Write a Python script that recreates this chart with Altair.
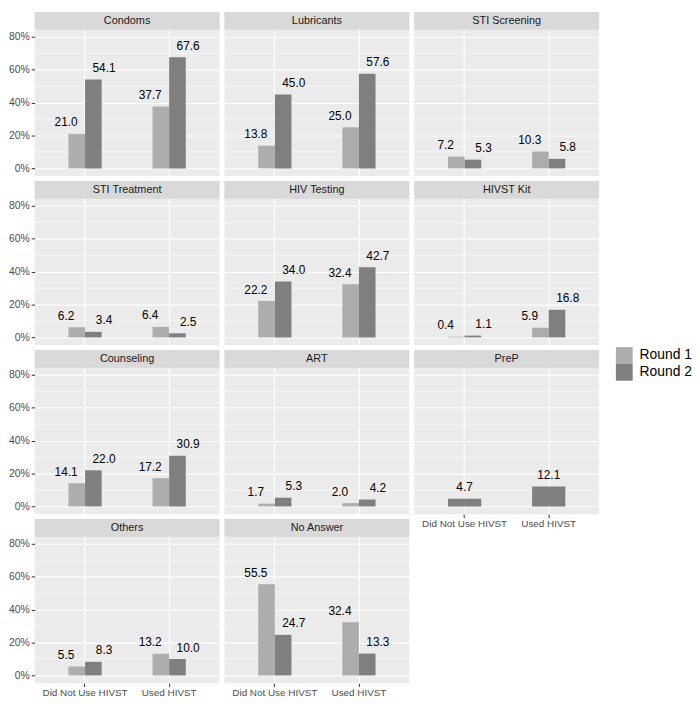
import altair as alt
import pandas as pd

panels = ["Condoms", "Lubricants", "STI Screening", "STI Treatment", "HIV Testing",
          "HIVST Kit", "Counseling", "ART", "PreP", "Others", "No Answer"]
groups = ["Did Not Use HIVST", "Used HIVST"]
rounds = ["Round 1", "Round 2"]
round1_not_used = [21.0, 13.8, 7.2, 6.2, 22.2, 0.4, 14.1, 1.7, None, 5.5, 55.5]
round1_used = [37.7, 25.0, 10.3, 6.4, 32.4, 5.9, 17.2, 2.0, None, 13.2, 32.4]
round2_not_used = [54.1, 45.0, 5.3, 3.4, 34.0, 1.1, 22.0, 5.3, 4.7, 8.3, 24.7]
round2_used = [67.6, 57.6, 5.8, 2.5, 42.7, 16.8, 30.9, 4.2, 12.1, 10.0, 13.3]
colors = ["#ADADAD", "#7F7F7F"]

rows = []
for i, p in enumerate(panels):
    for rnd, a, b in [("Round 1", round1_not_used, round1_used),
                      ("Round 2", round2_not_used, round2_used)]:
        for g, v in zip(groups, [a[i], b[i]]):
            if v is not None:
                rows.append({"panel": p, "group": g, "round": rnd, "value": v})
df = pd.DataFrame(rows)

W, H, STRIP = 187, 166, 18
FONT = "Liberation Sans"
yscale = alt.Scale(domain=[-4.69, 95.16], nice=False, zero=False)
xscale = alt.Scale(domain=groups, paddingInner=0.605, paddingOuter=0.4015)
color_scale = alt.Scale(domain=rounds, range=colors)
legend = alt.Legend(orient="none", legendX=588, legendY=339, title=None,
                    symbolType="square", symbolSize=289, symbolStrokeWidth=0,
                    labelFontSize=14, labelColor="black", rowPadding=0,
                    labelOffset=7, padding=0, labelFont=FONT)

ncols = 3
bottom_panels = {"Others", "No Answer", "PreP"}


def make_panel(idx, name):
    show_y = idx % ncols == 0
    show_x = name in bottom_panels
    sub = df[df.panel == name]
    rnds = [r for r in rounds if r in set(sub["round"])]

    if show_y:
        yaxis = alt.Axis(values=[0, 20, 40, 60, 80], labelExpr="datum.value + '%'",
                         title=None, domain=False, grid=True, gridColor="white",
                         gridWidth=1.1, tickSize=3.5, tickColor="#333333",
                         tickWidth=1, labelColor="#4D4D4D", labelFontSize=10.5,
                         labelPadding=2, labelFont=FONT)
    else:
        yaxis = alt.Axis(values=[0, 20, 40, 60, 80], title=None, domain=False,
                         labels=False, ticks=False, grid=True, gridColor="white",
                         gridWidth=1.1)
    if show_x:
        xaxis = alt.Axis(title=None, domain=False, grid=True, gridColor="white",
                         gridWidth=1.1, tickSize=3.5, tickColor="#333333",
                         labelColor="#4D4D4D", labelFontSize=10, labelPadding=1,
                         labelAngle=0, bandPosition=0.5, labelFont=FONT)
    else:
        xaxis = alt.Axis(title=None, domain=False, labels=False, ticks=False,
                         grid=True, gridColor="white", gridWidth=1.1,
                         bandPosition=0.5)

    minor = alt.Chart(pd.DataFrame({"m": [10, 30, 50, 70]})).mark_rule(
        color="white", strokeWidth=0.55).encode(
        y=alt.Y("m:Q", scale=yscale, axis=yaxis))

    bars = alt.Chart(sub).mark_bar().encode(
        x=alt.X("group:N", scale=xscale, axis=xaxis),
        xOffset=alt.XOffset("round:N", scale=alt.Scale(domain=rnds, paddingInner=0,
                                                       paddingOuter=0)),
        y=alt.Y("value:Q", scale=yscale, axis=yaxis),
        y2=alt.datum(0),
        color=alt.Color("round:N", scale=color_scale, legend=legend),
    )

    layers = [minor, bars]
    for r in rnds:
        dx = 0 if len(rnds) == 1 else (-19.2 if r == "Round 1" else 19.2)
        layers.append(
            alt.Chart(sub[sub["round"] == r]).mark_text(
                baseline="alphabetic", dy=-7.5, dx=dx, fontSize=12, color="black",
                font=FONT).encode(
                x=alt.X("group:N", scale=xscale, axis=xaxis),
                y=alt.Y("value:Q", scale=yscale, axis=yaxis),
                text=alt.Text("value:Q", format=".1f"),
            )
        )
    strip_df = pd.DataFrame({"panel": [name]})
    layers.append(alt.Chart(strip_df).mark_rect(color="#D9D9D9").encode(
        x=alt.value(0), x2=alt.value(W), y=alt.value(0), y2=alt.value(STRIP)))
    layers.append(alt.Chart(strip_df).mark_text(
        fontSize=11, color="#1A1A1A", baseline="middle", align="center",
        font=FONT).encode(
        x=alt.value(W / 2), y=alt.value(STRIP / 2 + 0.5), text="panel:N"))

    return alt.layer(*layers).properties(width=W, height=H)


charts = [make_panel(i, p) for i, p in enumerate(panels)]

chart = (
    alt.concat(*charts, columns=ncols, spacing=5, bounds="flush")
    .resolve_scale(xOffset="independent", x="independent", y="independent")
    .properties(padding=0)
    .configure(font=FONT)
    .configure_view(fill="#EBEBEB", strokeWidth=0)
)

chart.save("out.html", embed_options={"renderer": "svg", "actions": False})
